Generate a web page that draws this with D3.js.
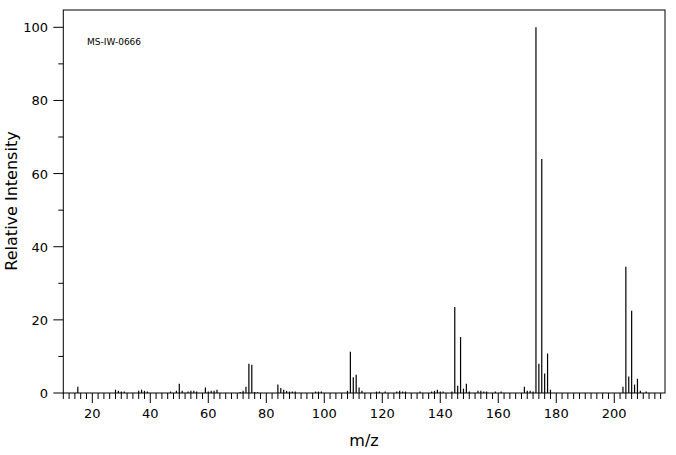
<!DOCTYPE html><html><head><meta charset="utf-8"><script src="https://cdn.jsdelivr.net/npm/d3@7"></script>
<style>body{margin:0;background:#fff}text{font-family:"DejaVu Sans",sans-serif}</style></head><body>
<svg id="c" width="676" height="455"></svg>
<script>
const mz = [15,28,29,30,31,36,37,38,39,47,49,50,51,53,54,55,56,59,60,61,62,63,71,72,73,74,75,76,77,
84,85,86,87,88,89,90,97,98,99,108,109,110,111,112,113,118,119,121,125,126,127,128,133,137,138,139,140,141,144,
145,146,147,148,149,150,153,154,155,156,159,161,169,170,171,172,173,174,175,176,177,178,
203,204,205,206,207,208,209,211];
const intensity = [1.7,0.9,0.6,0.4,0.4,0.6,0.9,0.6,0.4,0.4,0.6,2.5,0.6,0.4,0.6,0.6,0.4,1.5,0.4,0.6,0.6,0.9,0.3,0.6,1.7,8.0,7.7,0.3,0.2,
2.3,1.4,0.9,0.6,0.4,0.4,0.4,0.4,0.4,0.4,0.6,11.3,4.3,5.0,1.5,0.6,0.4,0.4,0.4,0.4,0.6,0.4,0.4,0.4,0.4,0.6,0.9,0.4,0.4,0.4,
23.5,2.0,15.3,1.2,2.5,0.4,0.6,0.6,0.4,0.4,0.4,0.4,1.7,0.6,0.6,0.4,100,8.0,64,5.3,10.8,0.9,
1.7,34.5,4.5,22.5,2.3,3.9,0.6,0.4];
const xTicks = [20,40,60,80,100,120,140,160,180,200];
const yTicks = [0,20,40,60,80,100];
const title = "MS-IW-0666";

const svg = d3.select("#c");
const L=63.3,R=665,T=10,B=393;
const x = d3.scaleLinear().domain([10,217.5]).range([L,R]);
const y = d3.scaleLinear().domain([0,100]).range([B,27.3]);

svg.append("rect").attr("x",L).attr("y",T).attr("width",R-L).attr("height",B-T)
  .attr("fill","none").attr("stroke","#000").attr("stroke-width",1);

const g = svg.append("g");
// x ticks
d3.range(10,218,2).forEach(v=>{
  const major = v%20===0;
  g.append("line").attr("x1",x(v)).attr("x2",x(v)).attr("y1",B).attr("y2",B+(major?10:6)).attr("stroke","#000");
});
xTicks.forEach(v=>g.append("text").attr("x",x(v)).attr("y",418).attr("text-anchor","middle").attr("font-size",13).text(v));
// y ticks
d3.range(0,101,10).forEach(v=>{
  const major = v%20===0;
  g.append("line").attr("x1",L-(major?10:5)).attr("x2",L).attr("y1",y(v)).attr("y2",y(v)).attr("stroke","#000");
});
yTicks.forEach(v=>g.append("text").attr("x",48).attr("y",y(v)+5).attr("text-anchor","end").attr("font-size",13).text(v));

svg.append("g").selectAll("line").data(mz).join("line")
  .attr("x1",d=>x(d)).attr("x2",d=>x(d)).attr("y1",B).attr("y2",(d,i)=>y(intensity[i]))
  .attr("stroke","#000").attr("stroke-width",1.2);

svg.append("text").attr("x",87).attr("y",45).attr("font-size",9).attr("font-family","DejaVu Sans Mono").text(title);
svg.append("text").attr("x",364).attr("y",446).attr("text-anchor","middle").attr("font-size",16).text("m/z");
svg.append("text").attr("transform","translate(17,201) rotate(-90)").attr("text-anchor","middle").attr("font-size",16).text("Relative Intensity");
</script></body></html>
